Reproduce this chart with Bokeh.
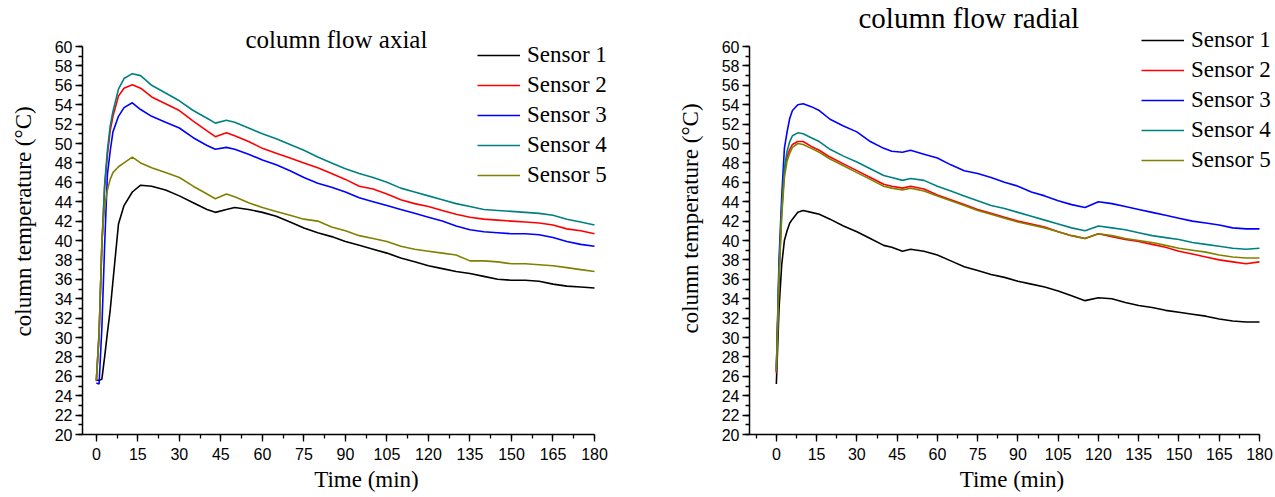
from bokeh.plotting import figure
from bokeh.layouts import row
from bokeh.models import Range1d, SingleIntervalTicker, Legend, LegendItem, Label
from bokeh.embed import file_html
from bokeh.resources import INLINE

# ---------------- data ----------------
time_min = [0, 1, 2, 3, 4, 5, 6, 8, 10, 13,
            16, 20, 25, 30, 35, 40, 43, 47, 50, 55,
            60, 65, 70, 75, 80, 85, 90, 95, 100, 105,
            110, 115, 120, 125, 130, 135, 140, 145, 150, 155,
            160, 165, 170, 175, 180]

sensor_names = ["Sensor 1", "Sensor 2", "Sensor 3", "Sensor 4", "Sensor 5"]
sensor_colors = ["#000000", "#FF0000", "#0000FF", "#008080", "#808000"]

# column flow axial
axial_s1 = [25.6, 25.6, 25.7, 28.0, 30.5, 32.8, 35.8, 41.7, 43.6, 45.0,
            45.7, 45.6, 45.2, 44.6, 43.9, 43.2, 42.9, 43.2, 43.4, 43.2,
            42.9, 42.5, 41.9, 41.3, 40.8, 40.4, 39.9, 39.5, 39.1, 38.7,
            38.2, 37.8, 37.4, 37.1, 36.8, 36.6, 36.3, 36.0, 35.9, 35.9,
            35.8, 35.5, 35.3, 35.2, 35.1]
axial_s2 = [25.5, 30.5, 39.5, 45.5, 48.8, 51.3, 52.8, 54.9, 55.7, 56.05,
            55.7, 54.8, 54.1, 53.4, 52.3, 51.3, 50.7, 51.1, 50.8, 50.2,
            49.5, 49.0, 48.5, 48.0, 47.5, 46.9, 46.3, 45.6, 45.3, 44.8,
            44.2, 43.8, 43.5, 43.1, 42.7, 42.4, 42.2, 42.1, 42.0, 41.9,
            41.8, 41.6, 41.2, 41.0, 40.7]
axial_s3 = [25.3, 25.2, 31.0, 39.5, 46.8, 49.2, 51.2, 52.8, 53.7, 54.2,
            53.5, 52.8, 52.2, 51.6, 50.6, 49.8, 49.4, 49.6, 49.4, 48.9,
            48.3, 47.8, 47.2, 46.5, 45.9, 45.5, 45.0, 44.4, 44.0, 43.6,
            43.2, 42.8, 42.4, 42.0, 41.5, 41.1, 40.9, 40.8, 40.7, 40.7,
            40.6, 40.3, 39.9, 39.6, 39.4]
axial_s4 = [25.6, 30.5, 39.5, 45.8, 49.3, 51.8, 53.3, 55.6, 56.7, 57.2,
            57.0, 56.0, 55.2, 54.4, 53.4, 52.6, 52.1, 52.4, 52.2, 51.6,
            51.0, 50.5, 49.9, 49.3, 48.6, 48.0, 47.4, 46.9, 46.5, 46.0,
            45.4, 45.0, 44.6, 44.2, 43.8, 43.5, 43.2, 43.1, 43.0, 42.9,
            42.8, 42.6, 42.2, 41.9, 41.6]
axial_s5 = [25.6, 30.0, 40.0, 43.5, 45.2, 46.3, 47.0, 47.6, 48.0, 48.6,
            48.0, 47.5, 47.0, 46.5, 45.6, 44.8, 44.3, 44.8, 44.5, 43.9,
            43.4, 43.0, 42.6, 42.2, 42.0, 41.4, 41.0, 40.5, 40.2, 39.9,
            39.4, 39.1, 38.9, 38.7, 38.5, 37.9, 37.9, 37.8, 37.6, 37.6,
            37.5, 37.4, 37.2, 37.0, 36.8]

# column flow radial
radial_s1 = [25.2, 33.0, 37.5, 40.0, 41.0, 41.8, 42.2, 42.9, 43.1, 42.9,
             42.7, 42.2, 41.5, 40.9, 40.2, 39.5, 39.3, 38.9, 39.1, 38.9,
             38.5, 37.9, 37.3, 36.9, 36.5, 36.2, 35.8, 35.5, 35.2, 34.8,
             34.3, 33.8, 34.1, 34.0, 33.6, 33.3, 33.1, 32.8, 32.6, 32.4,
             32.2, 31.9, 31.7, 31.6, 31.6]
radial_s2 = [26.3, 36.5, 43.0, 47.0, 48.6, 49.4, 49.9, 50.2, 50.2, 49.7,
             49.3, 48.6, 47.9, 47.2, 46.5, 45.8, 45.6, 45.4, 45.6, 45.3,
             44.7, 44.2, 43.7, 43.2, 42.8, 42.4, 42.0, 41.7, 41.4, 40.9,
             40.5, 40.2, 40.7, 40.4, 40.1, 39.9, 39.6, 39.3, 38.9, 38.6,
             38.3, 38.0, 37.8, 37.6, 37.8]
radial_s3 = [26.5, 38.0, 44.5, 49.5, 51.2, 52.6, 53.4, 54.0, 54.1, 53.8,
             53.4, 52.5, 51.8, 51.2, 50.2, 49.5, 49.2, 49.1, 49.3, 48.9,
             48.5, 47.8, 47.2, 46.9, 46.5, 46.0, 45.6, 45.0, 44.6, 44.1,
             43.7, 43.4, 44.0, 43.8, 43.5, 43.2, 42.9, 42.6, 42.3, 42.0,
             41.8, 41.6, 41.3, 41.2, 41.2]
radial_s4 = [26.8, 37.0, 43.5, 47.5, 49.2, 50.2, 50.8, 51.1, 51.0, 50.6,
             50.2, 49.4, 48.7, 48.1, 47.4, 46.7, 46.5, 46.2, 46.4, 46.2,
             45.6, 45.1, 44.6, 44.1, 43.6, 43.3, 42.9, 42.5, 42.1, 41.7,
             41.3, 41.0, 41.5, 41.3, 41.1, 40.8, 40.5, 40.3, 40.1, 39.8,
             39.6, 39.4, 39.2, 39.1, 39.2]
radial_s5 = [26.5, 36.0, 42.5, 46.5, 48.2, 49.0, 49.6, 50.0, 49.9, 49.5,
             49.1, 48.4, 47.7, 47.0, 46.3, 45.6, 45.4, 45.2, 45.4, 45.1,
             44.6, 44.1, 43.6, 43.1, 42.7, 42.3, 41.9, 41.6, 41.3, 40.9,
             40.5, 40.2, 40.7, 40.5, 40.2, 40.0, 39.8, 39.5, 39.2, 39.0,
             38.8, 38.5, 38.3, 38.2, 38.2]

x_label = "Time (min)"
y_label_axial = "column temperature  (\u00b0C)"
y_label_radial = "column temperature (\u00b0C)"

SERIF = "Liberation Serif"
SANS = "Liberation Sans"

# ---------------- layout constants (pixels) ----------------
FIG_H = 497
Y_TOP_PX = 46      # where 60 sits
Y_BOT_PX = 434     # where 20 sits (x-axis)
FRAME_TOP = 2      # frame is taller than the axis so texts above 60 are not clipped
Y_MIN, Y_MAX = 20, 60


def make_panel(fig_left, fig_width, frame_left, axis_right, frame_right, x_start, x_end,
               series, y_label, title_text, title_xy, title_size, legend_xy):
    ppu_y = (Y_BOT_PX - Y_TOP_PX) / (Y_MAX - Y_MIN)
    y_hi = Y_MIN + (Y_BOT_PX - FRAME_TOP) / ppu_y
    ppu_x = (axis_right - frame_left) / (x_end - x_start)
    x_hi = x_start + (frame_right - frame_left) / ppu_x

    p = figure(width=fig_width, height=FIG_H,
               x_range=Range1d(x_start, x_hi), y_range=Range1d(Y_MIN, y_hi),
               output_backend="svg", toolbar_location=None,
               min_border_left=frame_left - fig_left,
               min_border_right=fig_left + fig_width - frame_right,
               min_border_top=FRAME_TOP, min_border_bottom=FIG_H - Y_BOT_PX)
    p.outline_line_color = None
    p.grid.visible = False
    p.background_fill_color = "white"
    p.border_fill_color = "white"

    p.xaxis.ticker = SingleIntervalTicker(interval=15, num_minor_ticks=2)
    p.yaxis.ticker = SingleIntervalTicker(interval=2, num_minor_ticks=2)
    p.xaxis.bounds = (x_start, x_end)
    p.yaxis.bounds = (Y_MIN, Y_MAX)
    for ax in (p.xaxis, p.yaxis):
        ax.axis_line_width = 1.5
        ax.axis_line_color = "black"
        ax.major_tick_line_color = "black"
        ax.minor_tick_line_color = "black"
        ax.major_tick_line_width = 1.3
        ax.minor_tick_line_width = 1.3
        ax.major_tick_in = 0
        ax.major_tick_out = 7
        ax.minor_tick_in = 0
        ax.minor_tick_out = 4
        ax.major_label_text_font = SANS
        ax.major_label_text_font_size = "16px"
        ax.major_label_text_color = "black"
        ax.axis_label_text_font = SERIF
        ax.axis_label_text_font_size = "23px"
        ax.axis_label_text_font_style = "normal"
        ax.axis_label_text_color = "black"
    p.xaxis.major_label_standoff = 6
    p.xaxis.axis_label_standoff = 4
    p.yaxis.major_label_standoff = 3
    p.yaxis.axis_label_standoff = 16
    p.xaxis.axis_label = x_label
    p.yaxis.axis_label = y_label

    renderers = []
    for vals, col in zip(series, sensor_colors):
        r = p.line(time_min, vals, line_color=col, line_width=1.6)
        renderers.append(r)

    items = [LegendItem(label=n, renderers=[r]) for n, r in zip(sensor_names, renderers)]
    leg = Legend(items=items, location=legend_xy, glyph_width=43, glyph_height=30,
                 label_height=30, spacing=0, padding=0, margin=0, label_standoff=7,
                 label_text_font=SERIF, label_text_font_size="23px",
                 label_text_color="black",
                 border_line_color=None, background_fill_alpha=0)
    p.add_layout(leg)

    p.add_layout(Label(x=title_xy[0], y=title_xy[1], x_units="screen", y_units="screen",
                       text=title_text, text_font=SERIF, text_font_size=title_size,
                       text_color="black", text_baseline="alphabetic"))
    return p


p1 = make_panel(0, 658, 82, 594, 650, -5, 180,
                [axial_s1, axial_s2, axial_s3, axial_s4, axial_s5],
                y_label_axial, "column flow axial", (163, 395), "25px", (395, 244))
p2 = make_panel(658, 617, 749, 1259, 1274, -10, 180,
                [radial_s1, radial_s2, radial_s3, radial_s4, radial_s5],
                y_label_radial, "column flow radial", (109, 417), "29px", (392, 259))

layout = row(p1, p2)
open("out.html", "w").write(file_html(layout, INLINE))
